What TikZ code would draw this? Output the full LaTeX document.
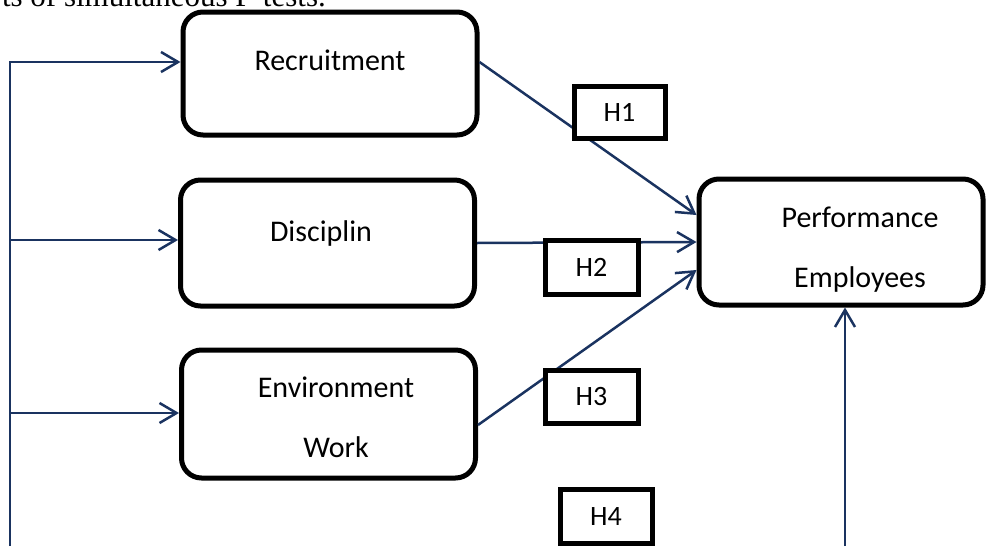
\documentclass[tikz,border=0pt]{standalone}
\usepackage{fontspec}
\setmainfont{Carlito}
\newfontfamily\bodyserif{Liberation Serif}
\usetikzlibrary{arrows.meta}
\definecolor{linkblue}{HTML}{1A3360}

\begin{document}
\begin{tikzpicture}[x=1pt,y=-1pt,
      >={Straight Barb[length=17pt,width=20pt]},
      link/.style={draw=linkblue,line width=2.5pt},
      var/.style={draw,line width=5pt,rounded corners=20pt,
        minimum width=294pt,inner sep=0pt},
      lbl/.style={font=\fontsize{30}{60}\selectfont,align=center,inner sep=0pt},
      hyp/.style={draw,fill=white,line width=5pt,inner sep=0pt,
        font=\fontsize{28}{32}\selectfont}]

      \useasboundingbox (0,0) rectangle (987,546);

      \node[anchor=base east,inner sep=0pt,font=\bodyserif\fontsize{31}{36}\selectfont]
        (txt) at (326,6) {ts of simultaneous F-tests.};

      \node[var,minimum height=123pt] (rec) at (330,73.5) {};
      \node[var,minimum height=126pt] (disc) at (327.5,243) {};
      \node[var,minimum height=128pt] (env) at (328.5,414) {};
      \node[var,minimum width=284pt,minimum height=126pt] (perf) at (841,242) {};

      \node[lbl] (rec-lbl) at (330,60) {Recruitment};
      \node[lbl] (disc-lbl) at (321,233) {Disciplin};
      \node[lbl] (env-lbl) at (336,417.5) {Environment\\Work};
      \node[lbl] (perf-lbl) at (860,250) {Performance\\Employees};

      \coordinate (t0) at (10,546);
      \coordinate (t1) at (10,62);
      \coordinate (t2) at (10,240);
      \coordinate (t3) at (10,413);
      \coordinate (b0) at (845,546);

      \draw[link,->] (t0) -- (t1) -- (t1 -| rec.west);
      \draw[link,->] (t2) -- (t2 -| disc.west);
      \draw[link,->] (t3) -- (t3 -| env.west);
      \draw[link,->] (b0) -- (b0 |- perf.south);

      \draw[link,->] ([yshift=11.5pt]rec.east) -- ([yshift=27pt]perf.west);
      \draw[link,->] (disc.east) -- (perf.west);
      \draw[link,->] ([yshift=-11pt]env.east) -- ([yshift=-28pt]perf.west);

      \node[hyp,minimum width=91pt,minimum height=52pt] (h1) at (619.5,112) {H1};
      \node[hyp,minimum width=93pt,minimum height=54pt] (h2) at (591.5,267) {H2};
      \node[hyp,minimum width=93pt,minimum height=53pt] (h3) at (591.5,396.5) {H3};
      \node[hyp,minimum width=92pt,minimum height=54pt] (h4) at (606,516.5) {H4};

\end{tikzpicture}
\end{document}
